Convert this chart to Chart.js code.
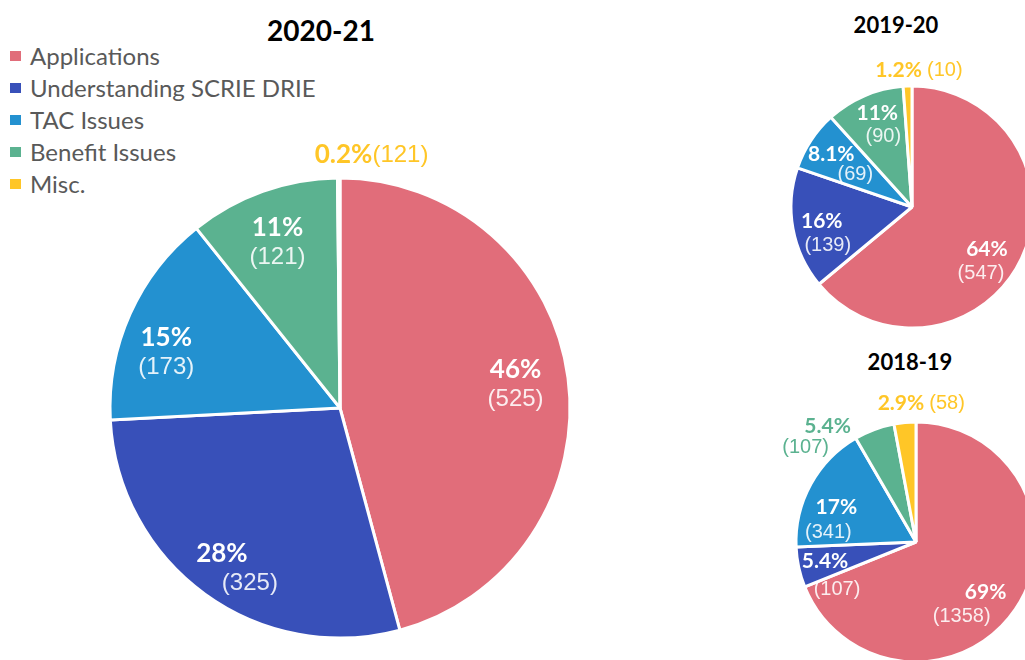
<!DOCTYPE html>
<html>
<head>
<meta charset="utf-8">
<script src="https://cdn.jsdelivr.net/npm/chart.js@4.4.1/dist/chart.umd.min.js"></script>
<style>
  html, body { margin: 0; padding: 0; background: #fff; }
  body { width: 1025px; height: 660px; overflow: hidden; position: relative; font-family: Lato, "Open Sans", sans-serif; }
  canvas { position: absolute; }
  .title { position: absolute; font-weight: bold; color: #000; line-height: 1; transform: translate(-50%, -50%); white-space: nowrap; }
  .legend { position: absolute; left: 10px; top: 40px; }
  .legend div { height: 32px; position: relative; font-size: 24px; color: #595959; line-height: 32px; padding-left: 20px; white-space: nowrap; }
  .legend span { position: absolute; left: 0; top: 11px; width: 11px; height: 10px; }
</style>
</head>
<body>
<div class="title" style="left:321px; top:30px; font-size:28px;">2020-21</div>
<div class="title" style="left:896px; top:25px; font-size:22px;">2019-20</div>
<div class="title" style="left:910px; top:362px; font-size:22px;">2018-19</div>
<div class="legend" id="legend"></div>

<canvas id="pie2021" width="620" height="530" style="left:0px; top:130px;"></canvas>
<canvas id="pie1920" width="300" height="300" style="left:760px; top:40px;"></canvas>
<canvas id="pie1819" width="300" height="300" style="left:760px; top:380px;"></canvas>

<script>
const categories = ['Applications', 'Understanding SCRIE DRIE', 'TAC Issues', 'Benefit Issues', 'Misc.']
const colors = ['#E16D7A', '#3850B9', '#2391D0', '#5BB290', '#FFC627']

// 2020-21 (Misc. slice is printed as 0.2% but labelled (121) in the original)
const values2021 = [525, 325, 173, 121, 2]
const counts2021 = [525, 325, 173, 121, 121]
const pct2021 = ['46%', '28%', '15%', '11%', '0.2%']

// 2019-20
const values1920 = [547, 139, 69, 90, 10]
const counts1920 = [547, 139, 69, 90, 10]
const pct1920 = ['64%', '16%', '8.1%', '11%', '1.2%']

// 2018-19
const values1819 = [1358, 107, 341, 107, 58]
const counts1819 = [1358, 107, 341, 107, 58]
const pct1819 = ['69%', '5.4%', '17%', '5.4%', '2.9%']

// legend
const legendBox = document.getElementById('legend')
categories.forEach(function (c, i) {
  const row = document.createElement('div')
  row.innerHTML = '<span style="background:' + colors[i] + '"></span>' + c
  legendBox.appendChild(row)
})

// draws "pct / (count)" labels; spot = [radius factor, dx, dy, split, mode, sep, half]
const sliceLabels = {
  id: 'sliceLabels',
  afterDatasetsDraw(chart, args, opts) {
    const ctx = chart.ctx
    const arcs = chart.getDatasetMeta(0).data
    ctx.save()
    ctx.textAlign = 'center'
    ctx.textBaseline = 'middle'
    arcs.forEach(function (arc, i) {
      const s = opts.spots[i]
      const mid = (arc.startAngle + arc.endAngle) / 2
      const r = arc.outerRadius * s[0]
      const px = arc.x + Math.cos(mid) * r + s[1]
      const py = arc.y + Math.sin(mid) * r + s[2]
      const pct = opts.pct[i]
      const cnt = '(' + opts.counts[i] + ')'
      const pctFont = 'bold ' + opts.pctSize + 'px Lato, sans-serif'
      const cntFont = opts.cntSize + 'px "Liberation Sans", Arial, sans-serif'
      if (s[4] === 'line') {
        // one line outside the pie, coloured like the slice
        const sep = s[5] || ''
        ctx.font = pctFont
        const w1 = ctx.measureText(pct + sep).width
        ctx.font = cntFont
        const w2 = ctx.measureText(cnt).width
        const x0 = px - (w1 + w2) / 2
        ctx.textAlign = 'left'
        ctx.fillStyle = colors[i]
        ctx.font = pctFont
        ctx.fillText(pct + sep, x0, py)
        ctx.font = cntFont
        ctx.fillText(cnt, x0 + w1, py)
        ctx.textAlign = 'center'
      } else {
        const outside = s[4] === 'out'
        const half = s[6] || opts.half
        ctx.font = pctFont
        ctx.fillStyle = outside ? colors[i] : '#ffffff'
        ctx.fillText(pct, px - s[3], py - half)
        ctx.font = cntFont
        ctx.fillStyle = outside ? colors[i] : 'rgba(255,255,255,0.88)'
        ctx.fillText(cnt, px + s[3], py + half)
      }
    })
    ctx.restore()
  }
}

const makePie = function (id, values, counts, pct, padding, labelOpts) {
  const ctx = document.getElementById(id)
  return new Chart(ctx, {
    type: 'pie',
    data: {
      labels: categories,
      datasets: [{
        data: values,
        backgroundColor: colors,
        borderColor: '#ffffff',
        borderWidth: 3
      }]
    },
    options: {
      responsive: false,
      animation: false,
      layout: { padding: padding },
      plugins: {
        legend: { display: false },
        tooltip: { enabled: false },
        sliceLabels: Object.assign({ pct: pct, counts: counts }, labelOpts)
      }
    },
    plugins: [sliceLabels]
  })
}

makePie('pie2021', values2021, counts2021, pct2021,
  { left: 108.5, top: 46.5, right: 48.5, bottom: 20.5 },
  {
    pctSize: 26, cntSize: 24, half: 15,
    spots: [
      [0.77, 0, 0, 0],
      [0.83, 8, 6, 14],
      [0.79, -8, 19, 0],
      [0.77, -3, 1, 0],
      [1.10, 33, 0, 0, 'line', '']
    ]
  })

makePie('pie1920', values1920, counts1920, pct1920,
  { left: 29.5, top: 44.5, right: 25.5, bottom: 10.5 },
  {
    pctSize: 21, cntSize: 20, half: 12,
    spots: [
      [0.73, -8, 17, -3],
      [0.75, 2, 10, 3],
      [0.67, -1, 2, 12, 'in', null, 10.5],
      [0.73, 3, -1, 3],
      [1.13, 12, 0, 0, 'line', ' ']
    ]
  })

makePie('pie1819', values1819, counts1819, pct1819,
  { left: 34.5, top: 40.5, right: 22.5, bottom: 16.5 },
  {
    pctSize: 21, cntSize: 20, half: 12.5,
    spots: [
      [0.69, -11, 16, -12],
      [0.75, 3, 14, 6, 'in', null, 14],
      [0.70, -10, 18, -4],
      [1.11, -53, 20, -11, 'out', null, 10.5],
      [1.15, 18, -1, 0, 'line', ' ']
    ]
  })
</script>
</body>
</html>
